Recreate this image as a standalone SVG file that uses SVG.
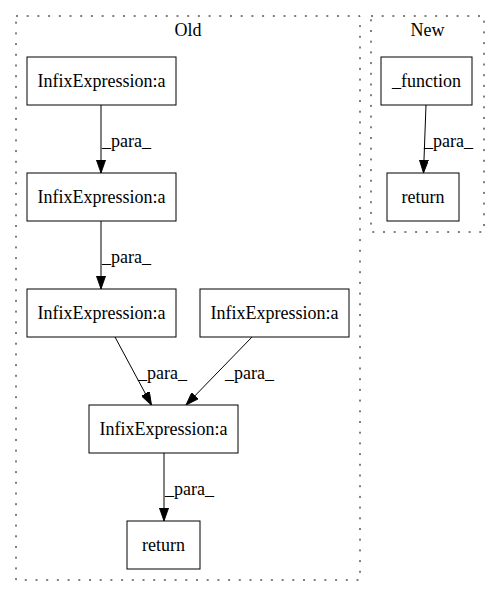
<svg xmlns="http://www.w3.org/2000/svg" width="499" height="596" viewBox="0 0 499 596">
<style>
.cl{fill:none;stroke:#000;stroke-width:1;stroke-dasharray:2,8.7}
.nd rect{fill:#fff;stroke:#000;stroke-width:1}
text{font-family:"Liberation Serif","Times New Roman",serif;font-size:18px;fill:#000}
.c{text-anchor:middle}
.e path{fill:none;stroke:#000;stroke-width:1}
</style>
<defs>
<marker id="ah" viewBox="0 0 10 7" refX="10" refY="3.5" markerWidth="13" markerHeight="9.1" markerUnits="userSpaceOnUse" orient="auto">
<path d="M0,0 L10,3.5 L0,7 z" fill="#000" stroke="#000" stroke-width="0.7"/>
</marker>
</defs>
<rect width="499" height="596" fill="#fff"/>
<g id="cluster_old">
<rect class="cl" x="16" y="16" width="344" height="564"/>
<text class="c" x="188" y="36">Old</text>
</g>
<g id="cluster_new">
<rect class="cl" x="371" y="16" width="113" height="216"/>
<text class="c" x="427.5" y="36">New</text>
</g>
<g id="n1" class="nd"><rect x="27" y="57" width="149" height="48"/><text class="c" x="101.5" y="87">InfixExpression:a</text></g>
<g id="n2" class="nd"><rect x="27" y="173" width="149" height="48"/><text class="c" x="101.5" y="203">InfixExpression:a</text></g>
<g id="n3" class="nd"><rect x="27" y="289" width="149" height="48"/><text class="c" x="101.5" y="319">InfixExpression:a</text></g>
<g id="n4" class="nd"><rect x="200" y="289" width="149" height="48"/><text class="c" x="274.5" y="319">InfixExpression:a</text></g>
<g id="n5" class="nd"><rect x="89" y="405" width="149" height="48"/><text class="c" x="163.5" y="435">InfixExpression:a</text></g>
<g id="n6" class="nd"><rect x="127" y="521" width="73" height="48"/><text class="c" x="163.5" y="551">return</text></g>
<g id="n7" class="nd"><rect x="381" y="57" width="91" height="48"/><text class="c" x="426.5" y="87">_function</text></g>
<g id="n8" class="nd"><rect x="387" y="173" width="72" height="48"/><text class="c" x="423" y="203">return</text></g>
<g id="edges" class="e">
<path d="M101,105 L101,173" marker-end="url(#ah)"/>
<text x="102" y="147">_para_</text>
<path d="M101,221 L101,289" marker-end="url(#ah)"/>
<text x="102" y="263">_para_</text>
<path d="M115,337 L151.5,405" marker-end="url(#ah)"/>
<text x="138" y="379">_para_</text>
<path d="M252,337 L186,405" marker-end="url(#ah)"/>
<text x="225" y="379">_para_</text>
<path d="M164,453 L164,521" marker-end="url(#ah)"/>
<text x="165" y="495">_para_</text>
<path d="M426,105 L423.5,173" marker-end="url(#ah)"/>
<text x="424" y="147">_para_</text>
</g>
</svg>
